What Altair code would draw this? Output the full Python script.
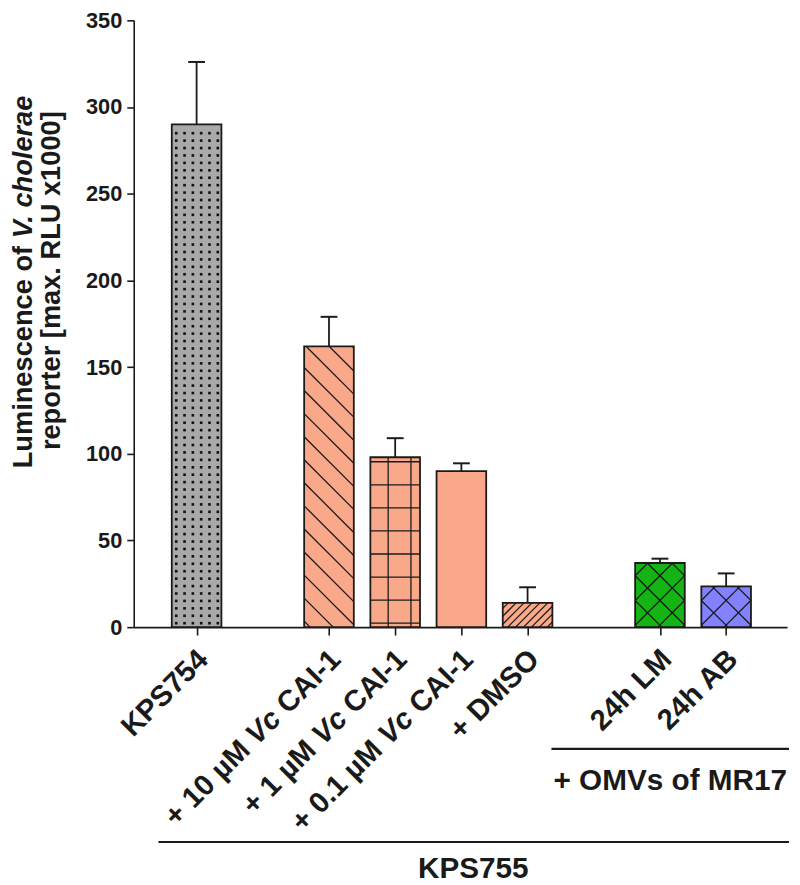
import math
import altair as alt
import pandas as pd

# ---------------- data ----------------
categories = ["KPS754", "+ 10 µM Vc CAI-1", "+ 1 µM Vc CAI-1",
              "+ 0.1 µM Vc CAI-1", "+ DMSO", "24h LM", "24h AB"]
label_parts = [
    [("KPS754", False)],
    [("+ 10 µM", False), ("Vc", True), ("CAI-1", False)],
    [("+ 1 µM", False), ("Vc", True), ("CAI-1", False)],
    [("+ 0.1 µM", False), ("Vc", True), ("CAI-1", False)],
    [("+ DMSO", False)],
    [("24h LM", False)],
    [("24h AB", False)],
]
slots = [1, 3, 4, 5, 6, 8, 9]
means = [290, 162, 98, 90, 14, 37, 23.5]
sems = [36, 17, 11, 4.5, 9, 2.5, 7.5]
fills = ["#A9A9A9", "#F9A88A", "#F9A88A", "#F9A88A", "#F9A88A", "#14B414", "#8282FF"]
patterns = ["dots", "backslash", "grid", "none", "slash", "cross", "cross"]
y_ticks = [0, 50, 100, 150, 200, 250, 300, 350]

title_line1 = [("Luminescence of", False), ("V. cholerae", True)]
title_line2 = "reporter [max. RLU x1000]"
group_omv = "+ OMVs of MR17"
group_kps = "KPS755"

# ---------------- geometry ----------------
W, H = 660, 613
XMIN, XMAX = 0.05, 9.92
YMIN, YMAX = 0, 350
SX = W / (XMAX - XMIN)
SY = H / (YMAX - YMIN)
HALF = 0.375
CAP = 0.127
PAD = {"left": 127, "top": 8, "right": 5, "bottom": 256}
OX, OY = 8 + PAD["left"], 8 + PAD["top"]  # page position of plot top-left
FONT = "Liberation Sans"
INK = "#1a1a1a"


def xd(page_x):
    return XMIN + (page_x - OX) / SX


def yd(page_y):
    return YMIN + (OY + H - page_y) / SY


# Arial / Liberation Sans Bold advance widths (per 1000 em)
CW = {' ': 278, '+': 584, '.': 278, '-': 333, 'µ': 611, 'M': 833, 'V': 667, 'c': 556,
      'C': 722, 'A': 722, 'I': 278, 'K': 722, 'P': 667, 'S': 667, 'D': 722, 'O': 778,
      'h': 611, 'L': 611, 'B': 722, 'u': 611, 'm': 889, 'i': 278, 'n': 611, 'e': 556,
      's': 556, 'o': 611, 'f': 333, 'l': 278, 'r': 389, 'a': 556, 'p': 611, 't': 333,
      '[': 333, ']': 333, 'x': 556, 'R': 722, 'U': 722}


def tw(text, size):
    return sum(CW.get(ch, 556) for ch in text) / 1000.0 * size


# ---------------- bars & error bars ----------------
bars = pd.DataFrame({
    "cat": categories, "slot": slots, "mean": means, "sem": sems, "fill": fills,
})
bars["left"] = bars["slot"] - HALF
bars["right"] = bars["slot"] + HALF
bars["base"] = 0.0
bars["top"] = bars["mean"] + bars["sem"]
bars["capl"] = bars["slot"] - CAP
bars["capr"] = bars["slot"] + CAP


# ---------------- pattern geometry (derived from bar values) ----------------
def diag(w, h, slope, spacing, offset):
    out = []
    cmin, cmax = (-w, h) if slope == 1 else (0, h + w)
    k = math.floor((cmin - offset) / spacing)
    while True:
        c = offset + k * spacing
        if c > cmax:
            break
        if slope == 1:
            u0, u1 = max(0, -c), min(w, h - c)
        else:
            u0, u1 = max(0, c - h), min(w, c)
        if u1 - u0 > 0.8:
            out.append((u0, slope * u0 + c, u1, slope * u1 + c))
        k += 1
    return out


seg_rows, dot_rows = [], []
for idx, r in bars.iterrows():
    w = 2 * HALF * SX
    h = r["mean"] * SY
    segs = []
    p = patterns[int(idx)]
    if p == "backslash":
        segs = diag(w, h, -1, 23.3, 6)
    elif p == "slash":
        segs = diag(w, h, 1, 8.0, 3)
    elif p == "cross":
        segs = diag(w, h, 1, 25.0, 2) + diag(w, h, -1, 25.0, 2)
    elif p == "grid":
        v = 4.0
        while v < h - 2:
            segs.append((0, v, w, v))
            v += 23.3
        for u in (18.0, 41.0):
            segs.append((u, 0, u, h))
    elif p == "dots":
        for i in range(6):
            u = 4.5 + 8.4 * i
            v = 4.0
            while v < h - 2:
                dot_rows.append({"x": r["left"] + u / SX, "y": v / SY})
                v += 7.5
    for (u0, v0, u1, v1) in segs:
        seg_rows.append({"x": r["left"] + u0 / SX, "x2": r["left"] + u1 / SX,
                         "y": v0 / SY, "y2": v1 / SY})

segs_df = pd.DataFrame(seg_rows)
dots_df = pd.DataFrame(dot_rows)

# ---------------- rotated x labels (mixed italic) ----------------
XL_SIZE = 29.5
ANG = 45 * math.pi / 180
lab_rows = []
for s, parts in zip(slots, label_parts):
    bx = OX + (s - XMIN) * SX + 7   # anchor page coords (end of label)
    by = OY + H + 28
    dist = 0.0
    for text, ital in reversed(parts):
        px = bx - dist * math.cos(ANG)
        py = by + dist * math.sin(ANG)
        lab_rows.append({"x": xd(px), "y": yd(py), "text": text, "ital": ital})
        dist += tw(text, XL_SIZE) + tw(" ", XL_SIZE)
labs = pd.DataFrame(lab_rows)

# ---------------- y title (mixed italic) ----------------
YT_SIZE = 27.5
cy = 279
w1 = tw(title_line1[0][0], YT_SIZE)
w2 = tw(title_line1[1][0], YT_SIZE)
sp = tw(" ", YT_SIZE)
T = w1 + sp + w2
t1 = pd.DataFrame([{"x": xd(24), "y": yd(cy + T / 2 - w1), "text": title_line1[0][0]}])
t2 = pd.DataFrame([{"x": xd(24), "y": yd(cy + T / 2 - w1 - sp), "text": title_line1[1][0]}])
t3 = pd.DataFrame([{"x": xd(53), "y": yd(cy), "text": title_line2}])

# ---------------- group brackets ----------------
brackets = pd.DataFrame([
    {"x": xd(557), "x2": xd(797), "y": yd(752)},
    {"x": xd(160), "x2": xd(797), "y": yd(846)},
])
group_text = pd.DataFrame([
    {"x": xd(677), "y": yd(793), "text": group_omv},
    {"x": xd(478), "y": yd(882), "text": group_kps},
])

# ---------------- chart ----------------
xs = alt.Scale(domain=[XMIN, XMAX], nice=False, zero=False)
ys = alt.Scale(domain=[YMIN, YMAX], nice=False, zero=False)
xa = alt.Axis(values=slots, labels=False, tickSize=8, tickWidth=1.6, tickColor=INK,
              domainColor=INK, domainWidth=1.6, grid=False, title=None)
ya = alt.Axis(values=y_ticks, tickSize=7, tickWidth=1.6, tickColor=INK,
              domainColor=INK, domainWidth=1.6, grid=False,
              labelFont=FONT, labelFontSize=22, labelFontWeight="bold",
              labelColor=INK, labelPadding=5, title=None)


def X(f):
    return alt.X(f, type="quantitative", scale=xs, axis=xa, title=None)


def Y(f):
    return alt.Y(f, type="quantitative", scale=ys, axis=ya, title=None)


bar_fill = alt.Chart(bars).mark_rect(strokeWidth=0).encode(
    x=X("left"), x2="right", y=Y("base"), y2="mean",
    color=alt.Color("fill:N", scale=None),
)

hatch = alt.Chart(segs_df).mark_rule(color=INK, strokeWidth=1.3).encode(
    x=X("x"), x2="x2", y=Y("y"), y2="y2")

dots = alt.Chart(dots_df).mark_square(size=7, color="#111111", opacity=1).encode(
    x=X("x"), y=Y("y"))

outline = alt.Chart(bars).mark_rect(fillOpacity=0, stroke=INK, strokeWidth=1.8).encode(
    x=X("left"), x2="right", y=Y("base"), y2="mean")

err = alt.Chart(bars).mark_rule(color=INK, strokeWidth=1.8).encode(
    x=X("slot"), y=Y("mean"), y2="top")
cap = alt.Chart(bars).mark_rule(color=INK, strokeWidth=2).encode(
    x=X("capl"), x2="capr", y=Y("top"))

lab_norm = alt.Chart(labs[~labs["ital"]]).mark_text(
    angle=315, align="right", baseline="middle", font=FONT, fontSize=XL_SIZE,
    fontWeight="bold", color=INK).encode(x=X("x"), y=Y("y"), text="text:N")
lab_ital = alt.Chart(labs[labs["ital"]]).mark_text(
    angle=315, align="right", baseline="middle", font=FONT, fontSize=XL_SIZE,
    fontWeight="bold", fontStyle="italic", color=INK).encode(
    x=X("x"), y=Y("y"), text="text:N")

title_a = alt.Chart(t1).mark_text(
    angle=270, align="right", baseline="middle", font=FONT, fontSize=YT_SIZE,
    fontWeight="bold", color=INK).encode(x=X("x"), y=Y("y"), text="text:N")
title_b = alt.Chart(t2).mark_text(
    angle=270, align="left", baseline="middle", font=FONT, fontSize=YT_SIZE,
    fontWeight="bold", fontStyle="italic", color=INK).encode(
    x=X("x"), y=Y("y"), text="text:N")
title_c = alt.Chart(t3).mark_text(
    angle=270, align="center", baseline="middle", font=FONT, fontSize=YT_SIZE,
    fontWeight="bold", color=INK).encode(x=X("x"), y=Y("y"), text="text:N")

br = alt.Chart(brackets).mark_rule(color=INK, strokeWidth=2.2).encode(
    x=X("x"), x2="x2", y=Y("y"))
gt = alt.Chart(group_text).mark_text(
    align="center", baseline="alphabetic", font=FONT, fontSize=30, fontWeight="bold",
    color=INK).encode(x=X("x"), y=Y("y"), text="text:N")

chart = alt.layer(
    bar_fill, hatch, dots, outline, err, cap, lab_norm, lab_ital,
    title_a, title_b, title_c, br, gt
).properties(
    width=W, height=H, padding=PAD, autosize=alt.AutoSizeParams(type="none"),
    background="white",
).configure_view(stroke=None)

chart.save("out.html", embed_options={"renderer": "svg", "actions": False})
